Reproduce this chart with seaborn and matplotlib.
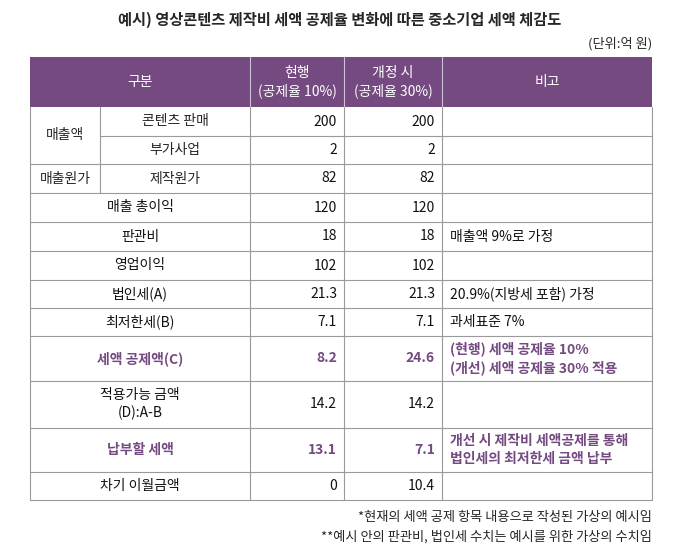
import matplotlib
matplotlib.use("Agg")
import matplotlib.pyplot as plt
from matplotlib.patches import Rectangle
import seaborn as sns

sns.set_theme(style="white", font="Noto Sans CJK KR")
plt.rcParams["font.family"] = "Noto Sans CJK KR"

title = "예시) 영상콘텐츠 제작비 세액 공제율 변화에 따른 중소기업 세액 체감도"
unit = "(단위:억 원)"
headers = ["구분", "현행\n(공제율 10%)", "개정 시\n(공제율 30%)", "비고"]
row_labels = ["콘텐츠 판매", "부가사업", "제작원가", "매출 총이익", "판관비", "영업이익",
              "법인세(A)", "최저한세(B)", "세액 공제액(C)", "적용가능 금액\n(D):A-B",
              "납부할 세액", "차기 이월금액"]
current = ["200", "2", "82", "120", "18", "102", "21.3", "7.1", "8.2", "14.2", "13.1", "0"]
revised = ["200", "2", "82", "120", "18", "102", "21.3", "7.1", "24.6", "14.2", "7.1", "10.4"]
notes = ["", "", "", "", "매출액 9%로 가정", "", "20.9%(지방세 포함) 가정", "과세표준 7%",
         "(현행) 세액 공제율 10%\n(개선) 세액 공제율 30% 적용", "",
         "개선 시 제작비 세액공제를 통해\n법인세의 최저한세 금액 납부", ""]
highlight = [False]*8 + [True, False, True, False]
footnotes = ["*현재의 세액 공제 항목 내용으로 작성된 가상의 예시임",
             "**예시 안의 판관비, 법인세 수치는 예시를 위한 가상의 수치임"]

purple = "#744A80"
grid = "#9a9a9a"
col_x = [30, 100, 250, 344, 442, 652]
header_top, header_bot = 57, 107
row_h = [29, 28, 29, 29, 29, 29, 28, 28, 45, 47, 44, 28]

fig = plt.figure(figsize=(6.8, 5.46), dpi=100)
ax = fig.add_axes([0, 0, 1, 1])
ax.set_xlim(0, 680); ax.set_ylim(546, 0); ax.axis("off")

ax.text(340, 20, title, ha="center", va="center", fontsize=11, fontweight="bold")
ax.text(652, 44, unit, ha="right", va="center", fontsize=9.5)

# header
ax.add_patch(Rectangle((col_x[0], header_top), col_x[-1]-col_x[0], header_bot-header_top,
                       facecolor=purple, edgecolor="none"))
hx = [(col_x[0]+col_x[2])/2, (col_x[2]+col_x[3])/2, (col_x[3]+col_x[4])/2, (col_x[4]+col_x[5])/2]
for x, h in zip(hx, headers):
    ax.text(x, (header_top+header_bot)/2, h, ha="center", va="center", color="white",
            fontsize=10, linespacing=1.3)
for x in col_x[2:5]:
    ax.plot([x, x], [header_top, header_bot], color="#d0c0d8", lw=0.8)

ys = [header_bot]
for h in row_h:
    ys.append(ys[-1]+h)

fs = 10
for i, lab in enumerate(row_labels):
    y0, y1 = ys[i], ys[i+1]; yc = (y0+y1)/2
    color = purple if highlight[i] else "#111111"
    weight = "bold" if highlight[i] else "normal"
    if i < 3:
        ax.text((col_x[1]+col_x[2])/2, yc, lab, ha="center", va="center", fontsize=fs)
    else:
        ax.text((col_x[0]+col_x[2])/2, yc, lab, ha="center", va="center", fontsize=fs,
                color=color, fontweight=weight, linespacing=1.3)
    ax.text(col_x[3]-7, yc, current[i], ha="right", va="center", fontsize=fs, color=color, fontweight=weight)
    ax.text(col_x[4]-7, yc, revised[i], ha="right", va="center", fontsize=fs, color=color, fontweight=weight)
    if notes[i]:
        ax.text(col_x[4]+8, yc, notes[i], ha="left", va="center", fontsize=fs,
                color=color, fontweight=weight, linespacing=1.35)
    # horizontal line at bottom
    left = col_x[1] if i == 0 else col_x[0]
    ax.plot([left, col_x[-1]], [y1, y1], color=grid, lw=0.8)
    # vertical lines
    vx = col_x[2:5] + [col_x[0], col_x[-1]]
    if i < 3:
        vx = vx + [col_x[1]]
    for x in vx:
        ax.plot([x, x], [y0, y1], color=grid, lw=0.8)

ax.text((col_x[0]+col_x[1])/2, (ys[0]+ys[2])/2, "매출액", ha="center", va="center", fontsize=fs)
ax.text((col_x[0]+col_x[1])/2, (ys[2]+ys[3])/2, "매출원가", ha="center", va="center", fontsize=fs)

ax.text(652, 517, footnotes[0], ha="right", va="center", fontsize=9.5)
ax.text(652, 537, footnotes[1], ha="right", va="center", fontsize=9.5)

fig.savefig("out.png", dpi=100, facecolor="white")
